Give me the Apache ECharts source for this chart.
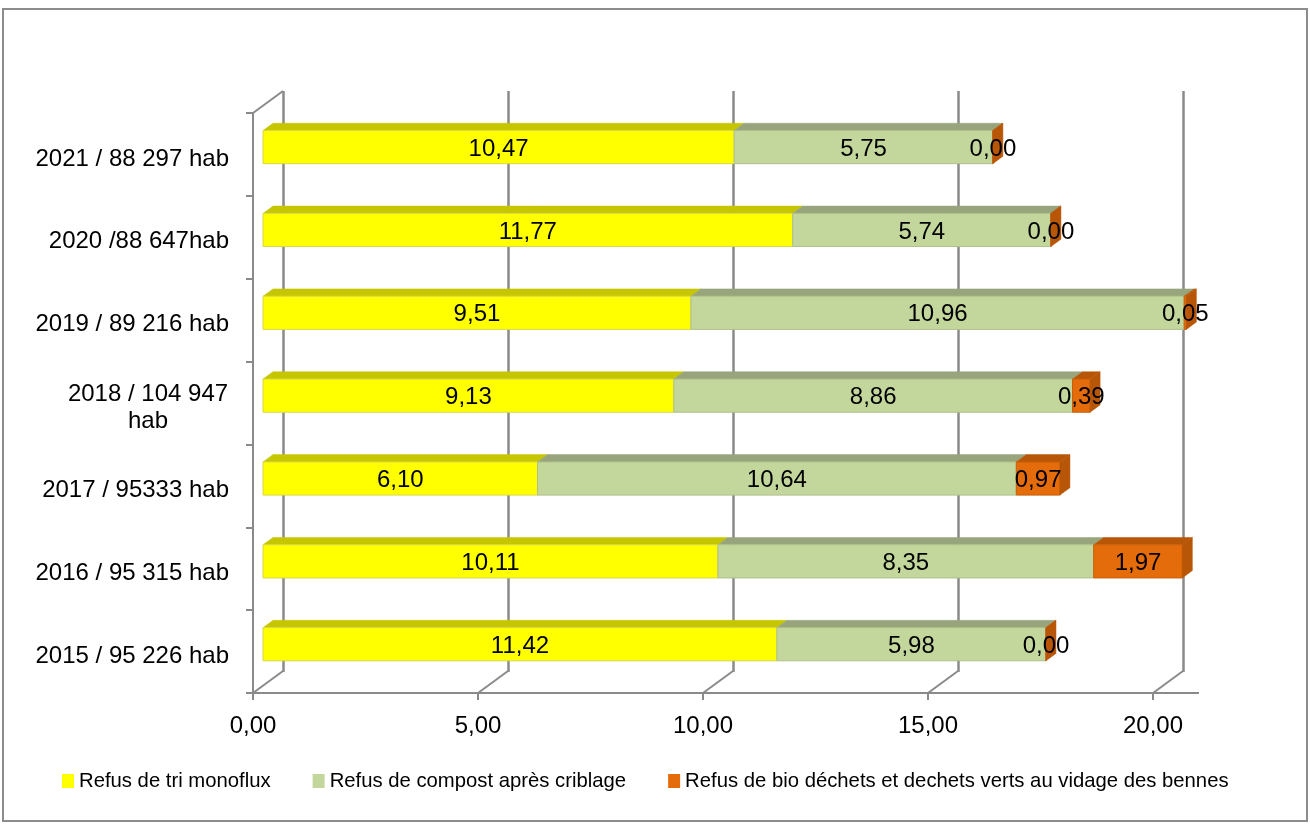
<!DOCTYPE html>
<html>
<head>
<meta charset="utf-8">
<script src="https://cdn.jsdelivr.net/npm/echarts@6/dist/echarts.min.js"></script>
<style>
  html, body { margin: 0; padding: 0; background: #fff; }
  #chart { width: 1310px; height: 826px; }
</style>
</head>
<body>
<div id="chart"></div>
<script>
// data, bottom row first (category axis runs upwards)
const categories = [
  "2015 / 95 226 hab",
  "2016 / 95 315 hab",
  "2017 / 95333 hab",
  "2018 / 104 947 hab",
  "2019 / 89 216 hab",
  "2020 /88 647hab",
  "2021 / 88 297 hab",
];
const triMonoflux = [11.42, 10.11, 6.10, 9.13, 9.51, 11.77, 10.47];
const compost = [5.98, 8.35, 10.64, 8.86, 10.96, 5.74, 5.75];
const bioDechets = [0.00, 1.97, 0.97, 0.39, 0.05, 0.00, 0.00];
const xTicks = [0, 5, 10, 15, 20];
const seriesNames = [
  "Refus de tri monoflux",
  "Refus de compost après criblage",
  "Refus de bio déchets et dechets verts au vidage des bennes",
];

const FONT = "Liberation Sans";
const GRID_COLOR = "#8a8a8a";
const DEPTH = [30, -22]; // front plane -> back wall offset (pseudo 3D)

const fmt = (v) => v.toFixed(2).replace(".", ",");

// stacked [start, end, catIndex, value] items
function stackItems(values, below) {
  return values.map((v, i) => {
    const start = below.reduce((s, arr) => s + arr[i], 0);
    return [start, start + v, i, v];
  });
}

function barRenderer(front, top, edge, withSide) {
  return function (params, api) {
    const start = api.value(0), end = api.value(1), cat = api.value(2), val = api.value(3);
    const band = api.size([0, 1])[1];
    const h = band * 0.4;
    const fx = DEPTH[0] / 3, fy = DEPTH[1] / 3;
    const a = api.coord([start, cat]);
    const b = api.coord([end, cat]);
    const x0 = a[0] + fx, x1 = b[0] + fx;
    const y0 = a[1] + fy - h / 2;
    const children = [
      {
        type: "polygon",
        shape: { points: [[x0, y0], [x1, y0], [x1 + fx, y0 + fy], [x0 + fx, y0 + fy]] },
        style: { fill: top, stroke: top, lineWidth: 0.5 },
      },
      {
        type: "rect",
        shape: { x: x0, y: y0, width: x1 - x0, height: h },
        style: { fill: front, stroke: edge, lineWidth: 1 },
      },
    ];
    if (withSide) {
      children.push({
        type: "polygon",
        shape: { points: [[x1, y0], [x1 + fx, y0 + fy], [x1 + fx, y0 + fy + h], [x1, y0 + h]] },
        style: { fill: top, stroke: top, lineWidth: 0.5 },
      });
    }
    children.push({
      type: "text",
      z2: 100,
      style: {
        text: fmt(val),
        x: (x0 + x1) / 2,
        y: y0 + h / 2 + 2,
        align: "center",
        verticalAlign: "middle",
        font: "24px '" + FONT + "'",
        fill: "#000",
      },
    });
    return { type: "group", children };
  };
}

// slanted floor / wall edges joining the front axes to the back wall
function floorRenderer(params, api) {
  const v = api.value(0);
  const band = api.size([0, 1])[1];
  const p = api.coord([v, 0]);
  const bottom = p[1] + band / 2;
  const lineStyle = { stroke: GRID_COLOR, lineWidth: 2 };
  const children = [
    { type: "line", shape: { x1: p[0], y1: bottom, x2: p[0] + DEPTH[0], y2: bottom + DEPTH[1] }, style: lineStyle },
  ];
  if (params.dataIndex === 0) {
    const t = api.coord([v, categories.length - 1]);
    const topY = t[1] - band / 2;
    children.push({ type: "line", shape: { x1: p[0], y1: topY, x2: p[0] + DEPTH[0], y2: topY + DEPTH[1] }, style: lineStyle });
  }
  if (params.dataIndex === params.dataInsideLength - 1) {
    children.push({ type: "line", shape: { x1: p[0], y1: bottom, x2: p[0] + 46, y2: bottom }, style: lineStyle });
  }
  return { type: "group", children };
}

const colors = [
  { front: "#FFFF00", top: "#C6C600", edge: "#D8D84A" },
  { front: "#C3D69B", top: "#98A47C", edge: "#AFC08A" },
  { front: "#E46C0A", top: "#B85607", edge: "#C75F09" },
];

const chart = echarts.init(document.getElementById("chart"), null, { renderer: "canvas" });

chart.setOption({
  animation: false,
  backgroundColor: "#fff",
  textStyle: { fontFamily: FONT },
  graphic: [
    {
      type: "rect",
      silent: true,
      shape: { x: 3, y: 9, width: 1304, height: 812 },
      style: { fill: "none", stroke: "#8c8c8c", lineWidth: 2 },
    },
  ],
  legend: {
    left: 57,
    top: 766,
    itemWidth: 12,
    itemHeight: 14,
    itemGap: 42,
    icon: "rect",
    textStyle: { fontFamily: FONT, fontSize: 20.3, color: "#000" },
    data: seriesNames,
  },
  grid: [
    // front plane: axes, labels and bars
    { left: 253, top: 113, width: 900, height: 580 },
    // back wall: gridlines only
    { left: 283, top: 91, width: 900, height: 581 },
  ],
  xAxis: [
    {
      gridIndex: 0,
      type: "value",
      min: 0,
      max: 20,
      interval: 5,
      splitLine: { show: false },
      axisLine: { show: true, lineStyle: { color: GRID_COLOR, width: 2 } },
      axisTick: { show: true, length: 7, lineStyle: { color: GRID_COLOR, width: 2 } },
      axisLabel: { margin: 21, fontSize: 24, color: "#000", fontFamily: FONT, formatter: fmt },
    },
    {
      gridIndex: 1,
      type: "value",
      min: 0,
      max: 20,
      interval: 5,
      axisLine: { show: false },
      axisTick: { show: false },
      axisLabel: { show: false },
      splitLine: { show: true, lineStyle: { color: GRID_COLOR, width: 2.5 } },
    },
  ],
  yAxis: [
    {
      gridIndex: 0,
      type: "category",
      data: categories,
      axisLine: { show: true, lineStyle: { color: GRID_COLOR, width: 2 } },
      axisTick: { show: true, length: 7, lineStyle: { color: GRID_COLOR, width: 2 } },
      axisLabel: {
        margin: 24,
        fontSize: 24,
        color: "#000",
        fontFamily: FONT,
        padding: [9, 0, 0, 0],
        formatter: (v) => (v === "2018 / 104 947 hab" ? "{w|2018 / 104 947}\n{w|hab}" : v),
        rich: { w: { width: 162, align: "center", fontSize: 24, lineHeight: 27, fontFamily: FONT, color: "#000" } },
      },
    },
    {
      gridIndex: 1,
      type: "category",
      data: categories,
      show: false,
    },
  ],
  series: [
    {
      type: "custom",
      name: "floor",
      xAxisIndex: 0,
      yAxisIndex: 0,
      silent: true,
      renderItem: floorRenderer,
      data: xTicks.map((v) => [v]),
      encode: { x: 0 },
      z: 1,
    },
    {
      type: "custom",
      name: seriesNames[0],
      xAxisIndex: 0,
      yAxisIndex: 0,
      itemStyle: { color: colors[0].front },
      renderItem: barRenderer(colors[0].front, colors[0].top, colors[0].edge, false),
      data: stackItems(triMonoflux, []),
      encode: { x: [0, 1], y: 2 },
      z: 3,
    },
    {
      type: "custom",
      name: seriesNames[1],
      xAxisIndex: 0,
      yAxisIndex: 0,
      itemStyle: { color: colors[1].front },
      renderItem: barRenderer(colors[1].front, colors[1].top, colors[1].edge, false),
      data: stackItems(compost, [triMonoflux]),
      encode: { x: [0, 1], y: 2 },
      z: 3,
    },
    {
      type: "custom",
      name: seriesNames[2],
      xAxisIndex: 0,
      yAxisIndex: 0,
      itemStyle: { color: colors[2].front },
      renderItem: barRenderer(colors[2].front, colors[2].top, colors[2].edge, true),
      data: stackItems(bioDechets, [triMonoflux, compost]),
      encode: { x: [0, 1], y: 2 },
      z: 3,
    },
  ],
});
</script>
</body>
</html>
